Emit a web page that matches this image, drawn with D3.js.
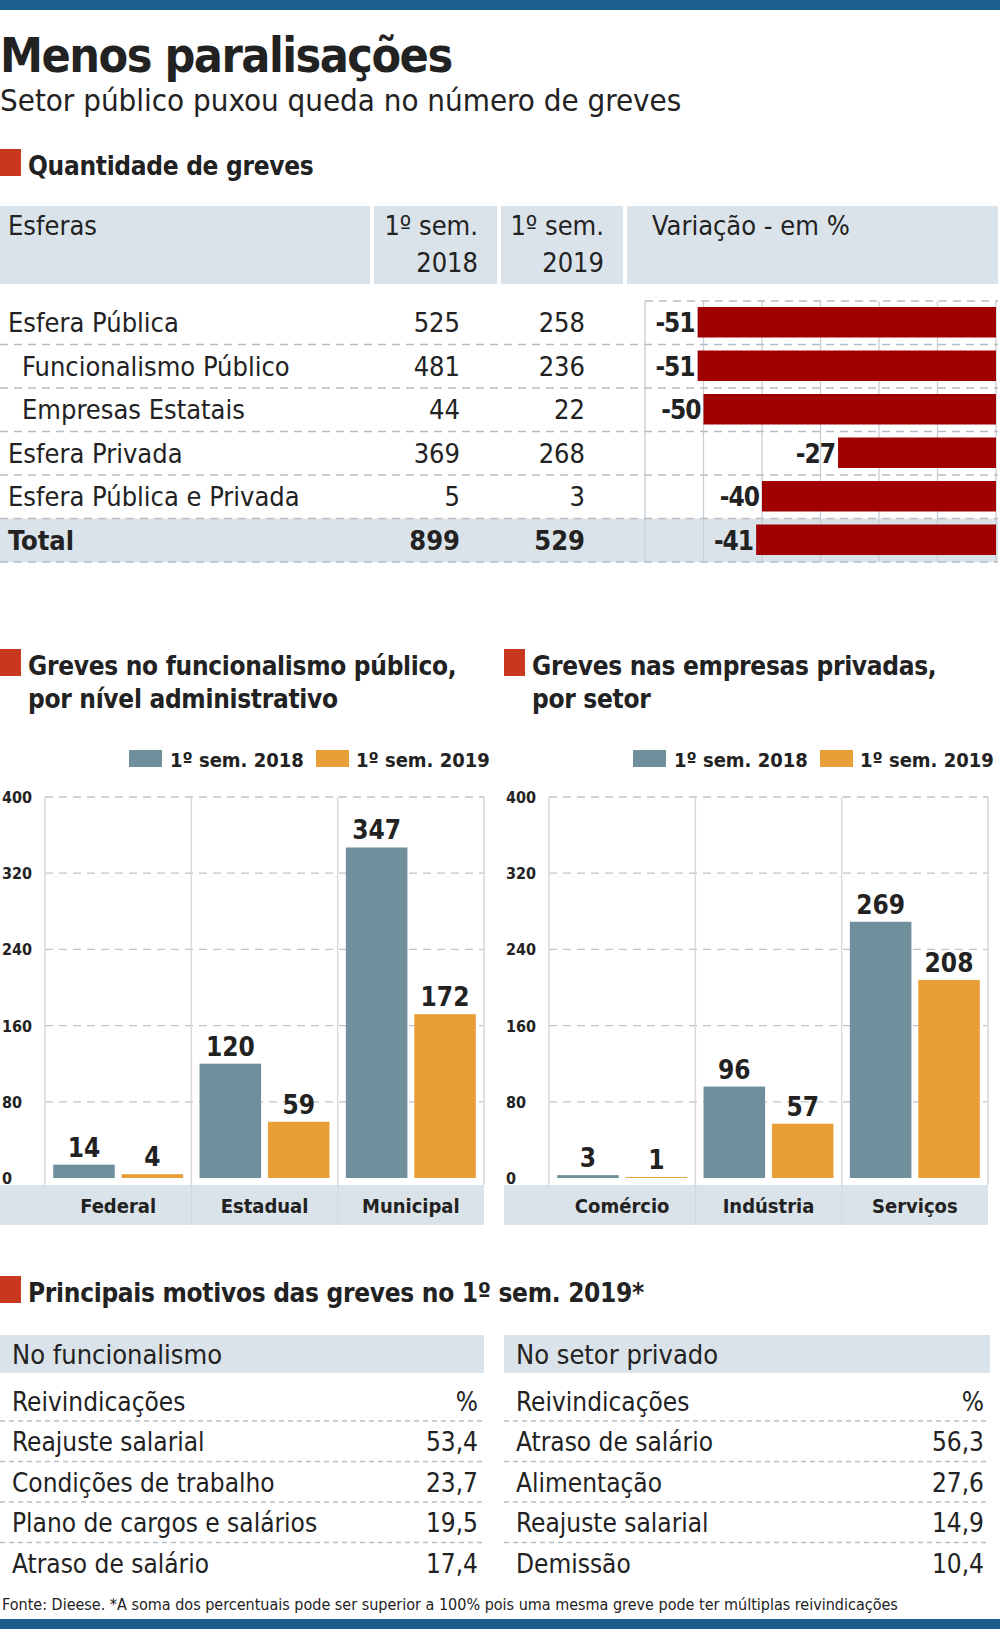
<!DOCTYPE html>
<html><head><meta charset="utf-8">
<script src="https://cdn.jsdelivr.net/npm/d3@7"></script>
<style>body{margin:0;background:#fff}text{font-family:"DejaVu Sans Condensed","Liberation Sans Narrow",sans-serif;fill:#222}</style>
</head><body><svg id="c" width="1000" height="1629"></svg>
<script>
// data
var esferas = ["Esfera Pública", "Funcionalismo Público", "Empresas Estatais", "Esfera Privada", "Esfera Pública e Privada", "Total"];
var indent = [0, 1, 1, 0, 0, 0];
var sem2018 = [525, 481, 44, 369, 5, 899];
var sem2019 = [258, 236, 22, 268, 3, 529];
var variacao = [-51, -51, -50, -27, -40, -41];

var niveis = ["Federal", "Estadual", "Municipal"];
var niveis2018 = [14, 120, 347];
var niveis2019 = [4, 59, 172];
var setores = ["Comércio", "Indústria", "Serviços"];
var setores2018 = [3, 96, 269];
var setores2019 = [1, 57, 208];
var yTicks = [0, 80, 160, 240, 320, 400];

var motivosPub = ["Reajuste salarial", "Condições de trabalho", "Plano de cargos e salários", "Atraso de salário"];
var pctPub = ["53,4", "23,7", "19,5", "17,4"];
var motivosPriv = ["Atraso de salário", "Alimentação", "Reajuste salarial", "Demissão"];
var pctPriv = ["56,3", "27,6", "14,9", "10,4"];

var svg = d3.select("#c");
var RED = "#c8381e", BAR = "#a00000", GREY = "#6f8f9c", ORANGE = "#e89f38", BG = "#dbe3ea";

svg.append("rect").attr("x", 0).attr("y", 0).attr("width", 1000).attr("height", 10).attr("fill", "#1d5f8c");
svg.append("rect").attr("x", 0).attr("y", 1619).attr("width", 1000).attr("height", 10).attr("fill", "#1d5f8c");
svg.append("text").attr("x", 0).attr("y", 72).text("Menos paralisações")
  .style("font-weight", "bold").style("font-size", "48px").style("letter-spacing", "-1.5px");
svg.append("text").attr("x", 0).attr("y", 111).text("Setor público puxou queda no número de greves").style("font-size", "31px");

function secHead(x, y, lines) {
  svg.append("rect").attr("x", x).attr("y", y - 26).attr("width", 21).attr("height", 27).attr("fill", RED);
  lines.forEach(function (l, i) {
    svg.append("text").attr("x", x + 28).attr("y", y + i * 33).text(l)
      .style("font-weight", "bold").style("font-size", "26px").style("letter-spacing", "-0.3px");
  });
}

// ---- table 1
secHead(0, 175, ["Quantidade de greves"]);
svg.append("rect").attr("x", 0).attr("y", 206).attr("width", 998).attr("height", 78).attr("fill", BG);
[370, 497, 623].forEach(function (x) {
  svg.append("rect").attr("x", x).attr("y", 206).attr("width", 4).attr("height", 78).attr("fill", "#fff");
});
var hs = "27px";
svg.append("text").attr("x", 8).attr("y", 235).text("Esferas").style("font-size", hs);
svg.append("text").attr("x", 478).attr("y", 235).attr("text-anchor", "end").text("1º sem.").style("font-size", hs);
svg.append("text").attr("x", 478).attr("y", 272).attr("text-anchor", "end").text("2018").style("font-size", hs);
svg.append("text").attr("x", 604).attr("y", 235).attr("text-anchor", "end").text("1º sem.").style("font-size", hs);
svg.append("text").attr("x", 604).attr("y", 272).attr("text-anchor", "end").text("2019").style("font-size", hs);
svg.append("text").attr("x", 652).attr("y", 235).text("Variação - em %").style("font-size", hs);

var rowY = d3.scaleBand().domain(d3.range(6)).range([301, 562]);
svg.append("rect").attr("x", 0).attr("y", rowY(5)).attr("width", 998).attr("height", rowY.bandwidth()).attr("fill", BG);
var xv = d3.scaleLinear().domain([-60, 0]).range([645, 996]);
d3.range(-60, 1, 10).forEach(function (v) {
  svg.append("line").attr("x1", xv(v)).attr("x2", xv(v)).attr("y1", rowY(0)).attr("y2", 562)
    .attr("stroke", "#c9ced3").attr("stroke-width", 1.3);
});
d3.range(7).forEach(function (i) {
  var y = i < 6 ? rowY(i) : 562;
  svg.append("line").attr("x1", i == 0 ? 645 : 0).attr("x2", 998).attr("y1", y).attr("y2", y)
    .attr("stroke", "#b8bec4").attr("stroke-dasharray", "8,6").attr("stroke-width", 1.3);
});
esferas.forEach(function (e, i) {
  var yb = rowY(i) + 31, bold = i == 5 ? "bold" : "normal";
  svg.append("text").attr("x", indent[i] ? 22 : 8).attr("y", yb).text(e).style("font-size", hs).style("font-weight", bold);
  svg.append("text").attr("x", 460).attr("y", yb).attr("text-anchor", "end").text(sem2018[i]).style("font-size", hs).style("font-weight", bold);
  svg.append("text").attr("x", 585).attr("y", yb).attr("text-anchor", "end").text(sem2019[i]).style("font-size", hs).style("font-weight", bold);
});
svg.selectAll(".vb").data(variacao).enter().append("rect")
  .attr("x", function (d) { return xv(d); }).attr("y", function (d, i) { return rowY(i) + 6; })
  .attr("width", function (d) { return xv(0) - xv(d); }).attr("height", rowY.bandwidth() - 13).attr("fill", BAR);
svg.selectAll(".vl").data(variacao).enter().append("text")
  .attr("x", function (d) { return xv(d) - 3; }).attr("y", function (d, i) { return rowY(i) + 31; })
  .attr("text-anchor", "end").text(function (d) { return d; })
  .style("font-weight", "bold").style("font-size", "26px").style("letter-spacing", "-1px");

// ---- bar charts
var yb = d3.scaleLinear().domain([0, 400]).range([1178, 797]);
function barChart(x0, x1, title, cats, a, b) {
  secHead(x0, 675, title);
  var lg = x1 - 355;
  svg.append("rect").attr("x", lg).attr("y", 750).attr("width", 33).attr("height", 17).attr("fill", GREY);
  svg.append("text").attr("x", lg + 41).attr("y", 767).text("1º sem. 2018").style("font-weight", "bold").style("font-size", "20px");
  svg.append("rect").attr("x", lg + 187).attr("y", 750).attr("width", 33).attr("height", 17).attr("fill", ORANGE);
  svg.append("text").attr("x", lg + 227).attr("y", 767).text("1º sem. 2019").style("font-weight", "bold").style("font-size", "20px");

  var px = x0 + 45;
  var xc = d3.scaleBand().domain(cats).range([px, x1]);
  var xs = d3.scaleBand().domain([0, 1]).range([0, xc.bandwidth()]).paddingInner(0.1).paddingOuter(0.12);
  svg.append("rect").attr("x", x0).attr("y", 1185).attr("width", x1 - x0).attr("height", 40).attr("fill", BG);
  yTicks.forEach(function (t) {
    if (t > 0) svg.append("line").attr("x1", px).attr("x2", x1).attr("y1", yb(t)).attr("y2", yb(t))
      .attr("stroke", "#bfc4c9").attr("stroke-dasharray", "8,6").attr("stroke-width", 1.3);
    svg.append("text").attr("x", x0 + 2).attr("y", yb(t) + 6).text(t).style("font-weight", "bold").style("font-size", "16px");
  });
  cats.forEach(function (c, i) {
    if (i > 0) svg.append("line").attr("x1", xc(c)).attr("x2", xc(c)).attr("y1", yb(400)).attr("y2", 1225)
      .attr("stroke", "#d5d9dd").attr("stroke-width", 1.5);
    svg.append("text").attr("x", xc(c) + xc.bandwidth() / 2).attr("y", 1213).attr("text-anchor", "middle")
      .text(c).style("font-weight", "bold").style("font-size", "20px");
    [[a[i], GREY], [b[i], ORANGE]].forEach(function (p, j) {
      var bx = xc(c) + xs(j);
      svg.append("rect").attr("x", bx).attr("y", yb(p[0])).attr("width", xs.bandwidth())
        .attr("height", yb(0) - yb(p[0])).attr("fill", p[1]);
      svg.append("text").attr("x", bx + xs.bandwidth() / 2).attr("y", yb(p[0]) - 8).attr("text-anchor", "middle")
        .text(p[0]).style("font-weight", "bold").style("font-size", "26px");
    });
  });
  svg.append("line").attr("x1", px).attr("x2", px).attr("y1", yb(400)).attr("y2", 1185).attr("stroke", "#d5d9dd").attr("stroke-width", 1.5);
  svg.append("line").attr("x1", x1).attr("x2", x1).attr("y1", yb(400)).attr("y2", 1185).attr("stroke", "#d5d9dd").attr("stroke-width", 1.5);
}
barChart(0, 484, ["Greves no funcionalismo público,", "por nível administrativo"], niveis, niveis2018, niveis2019);
barChart(504, 988, ["Greves nas empresas privadas,", "por setor"], setores, setores2018, setores2019);

// ---- motivos
secHead(0, 1302, ["Principais motivos das greves no 1º sem. 2019*"]);
function motivos(x0, x1, title, names, vals) {
  svg.append("rect").attr("x", x0).attr("y", 1335).attr("width", x1 - x0).attr("height", 38).attr("fill", BG);
  svg.append("text").attr("x", x0 + 12).attr("y", 1364).text(title).style("font-size", "27px");
  svg.append("text").attr("x", x0 + 12).attr("y", 1411).text("Reivindicações").style("font-size", "26px");
  svg.append("text").attr("x", x1 - 6).attr("y", 1411).attr("text-anchor", "end").text("%").style("font-size", "26px");
  names.forEach(function (n, i) {
    var y = 1451 + i * 40.5;
    svg.append("line").attr("x1", x0).attr("x2", x1).attr("y1", y - 30).attr("y2", y - 30)
      .attr("stroke", "#b8bec4").attr("stroke-dasharray", "5,4").attr("stroke-width", 1.3);
    svg.append("text").attr("x", x0 + 12).attr("y", y).text(n).style("font-size", "26px");
    svg.append("text").attr("x", x1 - 6).attr("y", y).attr("text-anchor", "end").text(vals[i]).style("font-size", "26px");
  });
}
motivos(0, 484, "No funcionalismo", motivosPub, pctPub);
motivos(504, 990, "No setor privado", motivosPriv, pctPriv);

svg.append("text").attr("x", 2).attr("y", 1610)
  .text("Fonte: Dieese. *A soma dos percentuais pode ser superior a 100% pois uma mesma greve pode ter múltiplas reivindicações")
  .style("font-size", "16px");
</script></body></html>
